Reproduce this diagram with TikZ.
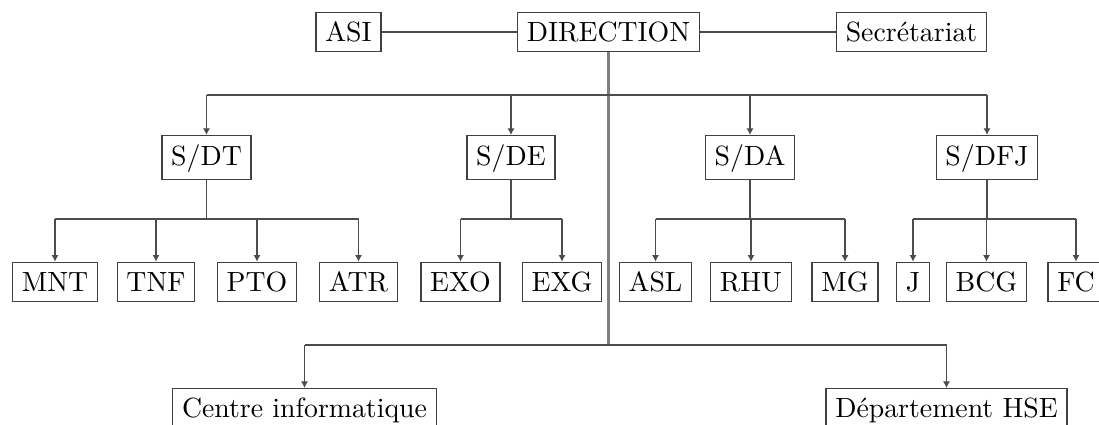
\documentclass[tikz,border=0pt]{standalone}
\usetikzlibrary{arrows.meta}
\tikzset{
  box/.style={draw=black!75, line width=0.45pt, fill=white, inner sep=3.33pt},
  sbox/.style={box, text height=7.5pt, text depth=1.6pt},
  leafbox/.style={box, text height=7pt, text depth=0.5pt},
  conn/.style={draw=black!70, line width=0.45pt},
  arr/.style={conn, -{Latex[length=2.4pt,width=2.6pt]}},
  trunk/.style={draw=black!50, line width=0.8pt},
}
\begin{document}
\begin{tikzpicture}[x=0.3597pt,y=-0.3597pt]
\useasboundingbox (0,0) rectangle (1099,425);
\clip (0,0) rectangle (1099,425);
% reference levels
\coordinate (top) at (0,95);
\coordinate (bot) at (0,345);
\coordinate (lvl) at (0,219);
% top row
\node[box] (ASI) at (348.5,32) {ASI};
\node[box] (DIR) at (608.5,32) {DIRECTION};
\node[box] (SEC) at (911.5,32) {Secrétariat};
% trunk
\draw[trunk] (DIR.south) -- (DIR |- bot);
\draw[conn] (ASI) -- (DIR);
\draw[conn] (DIR) -- (SEC);
% second row
\node[sbox] (SDT) at (206.5,157.5) {S/DT};
\node[sbox] (SDE) at (511,157.5) {S/DE};
\node[sbox] (SDA) at (750,157.5) {S/DA};
\node[sbox] (SDFJ) at (987,157.5) {S/DFJ};
\draw[conn] (SDT |- top) -- (SDFJ |- top);
\foreach \n in {SDT,SDE,SDA,SDFJ}{\draw[arr] (\n |- top) -- (\n);}
% leaves
\node[leafbox] (MNT) at (55,282) {MNT};
\node[leafbox] (TNF) at (156,282) {TNF};
\node[leafbox] (PTO) at (257,282) {PTO};
\node[leafbox] (ATR) at (358.5,282) {ATR};
\node[leafbox] (EXO) at (460.5,282) {EXO};
\node[leafbox] (EXG) at (562,282) {EXG};
\node[leafbox] (ASL) at (655.5,282) {ASL};
\node[leafbox] (RHU) at (751,282) {RHU};
\node[leafbox] (MG) at (845,282) {MG};
\node[leafbox] (J) at (913,282) {J};
\node[leafbox] (BCG) at (986.5,282) {BCG};
\node[leafbox] (FC) at (1076,282) {FC};
% S/DT group
\draw[conn] (SDT.south) -- (SDT |- lvl);
\draw[conn] (MNT |- lvl) -- (ATR |- lvl);
\foreach \n in {MNT,TNF,PTO,ATR}{\draw[arr] (\n |- lvl) -- (\n);}
% S/DE group
\draw[conn] (SDE.south) -- (SDE |- lvl);
\draw[conn] (EXO |- lvl) -- (EXG |- lvl);
\foreach \n in {EXO,EXG}{\draw[arr] (\n |- lvl) -- (\n);}
% S/DA group
\draw[conn] (SDA.south) -- (SDA |- lvl);
\draw[conn] (ASL |- lvl) -- (MG |- lvl);
\foreach \n in {ASL,RHU,MG}{\draw[arr] (\n |- lvl) -- (\n);}
% S/DFJ group
\draw[conn] (SDFJ.south) -- (SDFJ |- lvl);
\draw[conn] (J |- lvl) -- (FC |- lvl);
\foreach \n in {J,BCG,FC}{\draw[arr] (\n |- lvl) -- (\n);}
% bottom row
\node[box, anchor=north] (CI) at (304.5,388) {Centre informatique};
\node[box, anchor=north] (HSE) at (946.5,388) {Département HSE};
\draw[conn] (CI |- bot) -- (HSE |- bot);
\foreach \n in {CI,HSE}{\draw[arr] (\n |- bot) -- (\n);}
\end{tikzpicture}
\end{document}
